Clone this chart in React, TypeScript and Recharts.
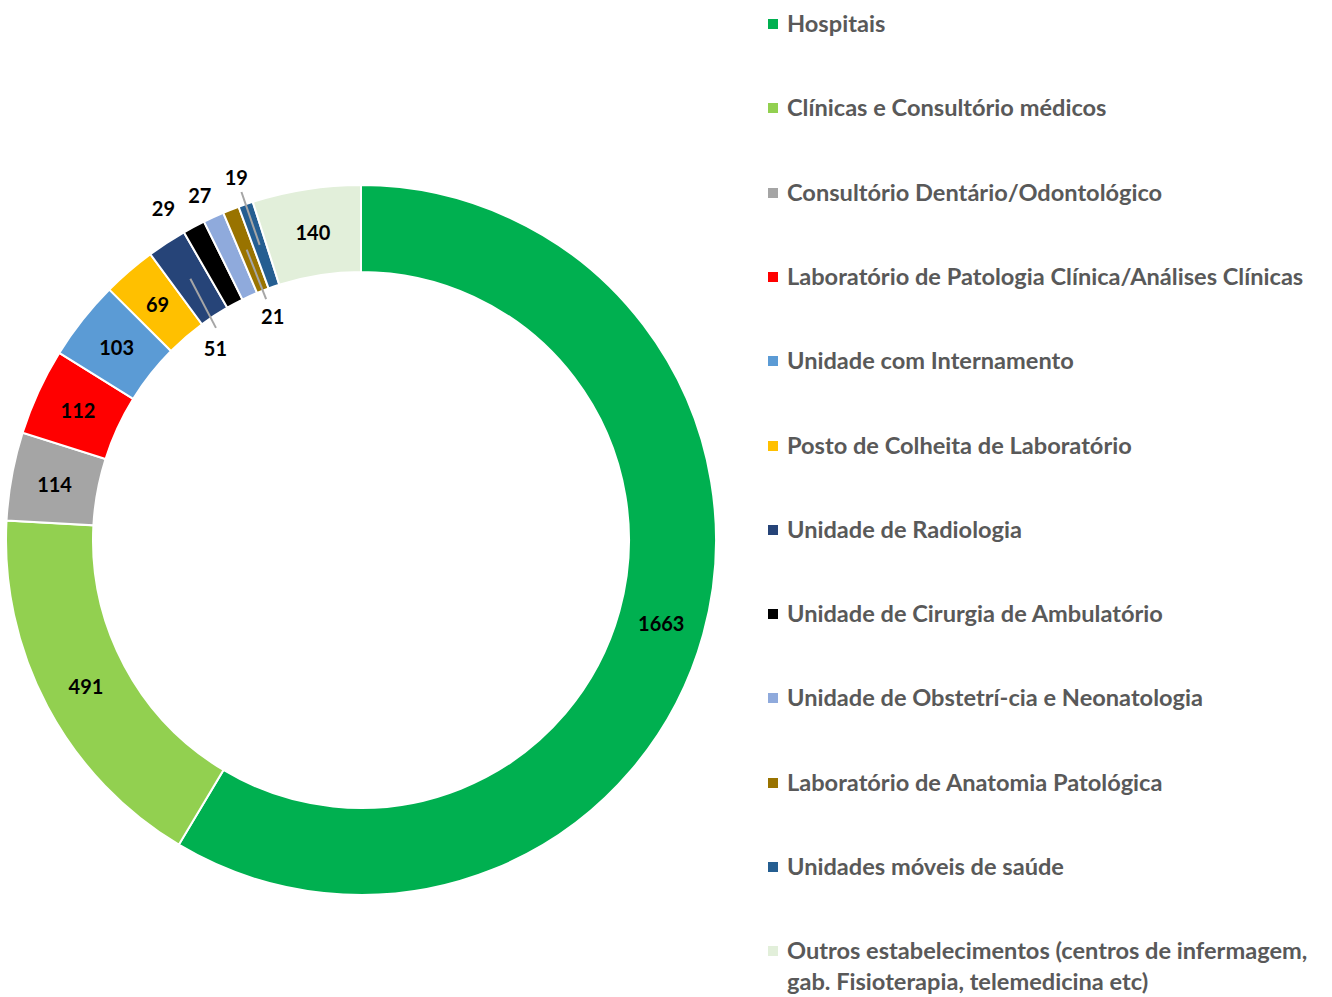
import React from "react";
import { PieChart, Pie, Cell, Legend } from "recharts";

const categories = [
  "Hospitais",
  "Clínicas e Consultório médicos",
  "Consultório Dentário/Odontológico",
  "Laboratório de Patologia Clínica/Análises Clínicas",
  "Unidade com Internamento",
  "Posto de Colheita de Laboratório",
  "Unidade de Radiologia",
  "Unidade de Cirurgia de Ambulatório",
  "Unidade de Obstetrí-cia e Neonatologia",
  "Laboratório de Anatomia Patológica",
  "Unidades móveis de saúde",
  "Outros estabelecimentos (centros de infermagem, gab. Fisioterapia, telemedicina etc)",
];

const values = [1663, 491, 114, 112, 103, 69, 51, 29, 27, 21, 19, 140];

const colors = [
  "#00B050",
  "#92D050",
  "#A5A5A5",
  "#FF0000",
  "#5B9BD5",
  "#FFC000",
  "#264478",
  "#000000",
  "#8FAADC",
  "#997300",
  "#255E91",
  "#E2EFDA",
];

const data = categories.map((name, i) => ({ name, value: values[i] }));

// label placement tweaks (radius in px, angular offset in degrees, optional leader line radii + end angle offset)
type Place = { r?: number; dAng?: number; line?: [number, number]; lineEndDAng?: number };
const labelPlace: Record<number, Place> = {
  6: { r: 241, dAng: 4, line: [312, 257], lineEndDAng: 1.2 },
  7: { r: 386, dAng: 2.7 },
  8: { r: 381, dAng: 0.5 },
  9: { r: 241, line: [312, 259] },
  10: { r: 384, line: [368, 312] },
};

const RAD = Math.PI / 180;

const renderLabel = (props: any) => {
  const { cx, cy, midAngle, innerRadius, outerRadius, index, value } = props;
  const p = labelPlace[index] || {};
  const r = p.r ?? (innerRadius + outerRadius) / 2;
  const ang = midAngle + (p.dAng ?? 0);
  const x = cx + r * Math.cos(-ang * RAD);
  const y = cy + r * Math.sin(-ang * RAD);
  let line = null;
  if (p.line) {
    const [r1, r2] = p.line;
    const a2 = midAngle + (p.lineEndDAng ?? 0);
    line = (
      <line
        x1={cx + r1 * Math.cos(-midAngle * RAD)}
        y1={cy + r1 * Math.sin(-midAngle * RAD)}
        x2={cx + r2 * Math.cos(-a2 * RAD)}
        y2={cy + r2 * Math.sin(-a2 * RAD)}
        stroke="#A6A6A6"
        strokeWidth={2}
      />
    );
  }
  return (
    <g>
      {line}
      <text
        x={x}
        y={y}
        textAnchor="middle"
        dominantBaseline="central"
        fill="#000"
        fontFamily="Lato, sans-serif"
        fontWeight={700}
        fontSize={20}
      >
        {value}
      </text>
    </g>
  );
};

const renderLegend = () => (
  <div style={{ fontFamily: "Lato, sans-serif", fontWeight: 700, fontSize: 23.6, color: "#595959" }}>
    {categories.map((c, i) => (
      <div
        key={c}
        style={{
          position: "absolute",
          left: 0,
          top: i * 84.3,
          width: 564,
          display: "flex",
          alignItems: "flex-start",
          lineHeight: "31px",
        }}
      >
        <span
          style={{
            display: "inline-block",
            width: 10,
            height: 10,
            background: colors[i],
            marginTop: 11,
            marginRight: 9,
            flex: "0 0 auto",
          }}
        />
        <span style={{ width: 540 }}>{c}</span>
      </div>
    ))}
  </div>
);

export default function App() {
  return (
    <div style={{ position: "absolute", left: 0, top: 0, width: 1332, height: 997, background: "#fff" }}>
      <PieChart width={1332} height={997} margin={{ top: 0, right: 0, bottom: 0, left: 0 }}>
        <Pie
          data={data}
          dataKey="value"
          nameKey="name"
          cx={361}
          cy={540}
          innerRadius={268}
          outerRadius={355}
          startAngle={90}
          endAngle={-270}
          stroke="#fff"
          strokeWidth={2}
          label={renderLabel}
          labelLine={false}
          isAnimationActive={false}
        >
          {data.map((d, i) => (
            <Cell key={d.name} fill={colors[i]} />
          ))}
        </Pie>
        <Legend
          content={renderLegend}
          wrapperStyle={{ position: "absolute", left: 768, top: 8, width: 564, height: 980 }}
        />
      </PieChart>
    </div>
  );
}
